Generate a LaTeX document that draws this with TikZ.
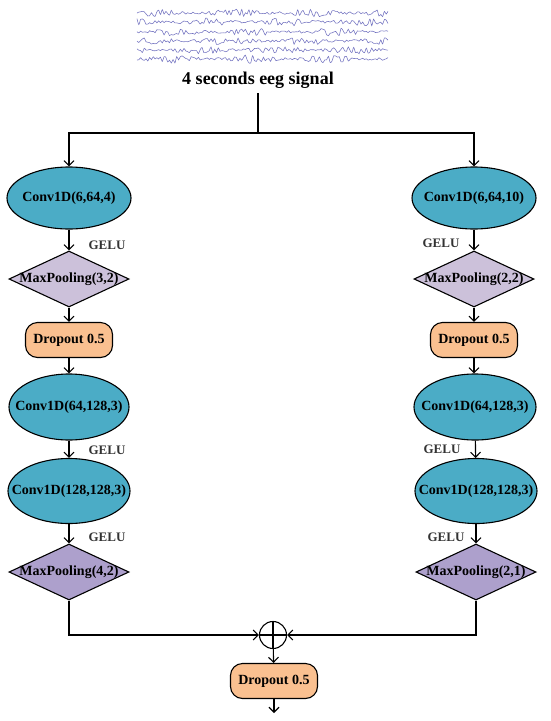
\documentclass[tikz,border=0pt]{standalone}
\usepackage{fontspec}
\setmainfont{Liberation Serif}
\usetikzlibrary{shapes.geometric,arrows.meta}

\definecolor{convblue}{HTML}{4BACC6}
\definecolor{droporange}{HTML}{FAC090}
\definecolor{poollight}{HTML}{CCC1DA}
\definecolor{pooldark}{HTML}{ADA0CC}
\definecolor{eegline}{HTML}{7272C0}

\newcommand{\lbl}[1]{\makebox[0pt]{#1}}

\begin{document}
\begin{tikzpicture}[x=1pt, y=-1pt,
		line width=1.1pt,
		>={Straight Barb[length=5pt,width=10pt]},
		conv/.style={ellipse, draw, fill=convblue, inner sep=0pt, minimum width=124pt, minimum height=62pt, font=\fontsize{14}{16}\selectfont\bfseries},
		pool/.style={diamond, draw, inner sep=0pt, minimum width=120pt, minimum height=56pt, font=\fontsize{14}{16}\selectfont\bfseries},
		drop/.style={rectangle, draw, rounded corners=12pt, fill=droporange, minimum width=87pt, minimum height=35pt, font=\fontsize{14}{16}\selectfont\bfseries},
		act/.style={font=\fontsize{13}{15}\selectfont\bfseries, text=black!80},
		eeg/.style={eegline, line width=0.55pt}]
		\useasboundingbox (0, 0) rectangle (550, 721);
		% signal
		\pgfmathsetseed{11}
		\foreach \y in {13, 22, 32, 41, 50, 59} {
			\draw [eeg] plot [smooth, domain=137:388, samples=140] (\x, {\y + (0.7 + 1.7*(sin(\x*2.3+\y*7))^2)*rand*1.7});
		}
		\node (title) at (258, 80) {\fontsize{18}{20}\selectfont\bfseries 4 seconds eeg signal};
		\coordinate (split) at (258, 133);
		\draw (258, 93) -- (split);
		% left branch
		\node [conv] (cl1) at (69, 198) {\lbl{Conv1D(6,64,4)}};
		\node [pool, fill=poollight] (pl1) at (69, 279) {\lbl{MaxPooling(3,2)}};
		\node [drop] (dl) at (69, 340) {Dropout 0.5};
		\node [conv, minimum width=120pt, minimum height=66pt] (cl2) at (69, 407) {\lbl{Conv1D(64,128,3)}};
		\node [conv, minimum width=122pt, minimum height=65pt] (cl3) at (69, 491) {\lbl{Conv1D(128,128,3)}};
		\node [pool, fill=pooldark] (pl2) at (69, 572) {\lbl{MaxPooling(4,2)}};
		\node [act] (gl1) at (107, 245) {GELU};
		\node [act] (gl2) at (107, 450) {GELU};
		\node [act] (gl3) at (107, 537) {GELU};
		% right branch
		\node [conv] (cr1) at (474, 198) {\lbl{Conv1D(6,64,10)}};
		\node [pool, fill=poollight] (pr1) at (474, 279) {\lbl{MaxPooling(2,2)}};
		\node [drop] (dr) at (474, 340) {Dropout 0.5};
		\node [conv, minimum width=122pt, minimum height=66pt] (cr2) at (475, 407) {\lbl{Conv1D(64,128,3)}};
		\node [conv, minimum width=122pt, minimum height=65pt] (cr3) at (476, 491) {\lbl{Conv1D(128,128,3)}};
		\node [pool, fill=pooldark] (pr2) at (476, 572) {\lbl{MaxPooling(2,1)}};
		\node [act] (gr1) at (441, 243) {GELU};
		\node [act] (gr2) at (442, 449) {GELU};
		\node [act] (gr3) at (446, 537) {GELU};
		% merge
		\node [circle, draw, minimum size=27pt, inner sep=0pt] (sum) at (273, 635) {};
		\draw (sum.north) -- (sum.south) (sum.west) -- (sum.east);
		\node [drop] (dout) at (274, 681) {Dropout 0.5};
		\coordinate (out) at (274, 713);
		% connections
		\draw [->] (split) -| (cl1);
		\draw [->] (split) -| (cr1);
		\draw [->] (cl1) -- (pl1);
		\draw [->] (pl1) -- (dl);
		\draw [->] (dl) -- (cl2);
		\draw [->] (cl2) -- (cl3);
		\draw [->] (cl3) -- (pl2);
		\draw [->] (cr1) -- (pr1);
		\draw [->] (pr1) -- (dr);
		\draw [->] (dr.south) -- (cr2.north -| dr.south);
		\draw [->] (cr2) -- (cr3);
		\draw [->] (cr3) -- (pr2);
		\draw [->] (pl2) |- (sum);
		\draw [->] (pr2) |- (sum);
		\draw [->] (sum) -- (dout);
		\draw [->] (dout) -- (out);
	\end{tikzpicture}
\end{document}
